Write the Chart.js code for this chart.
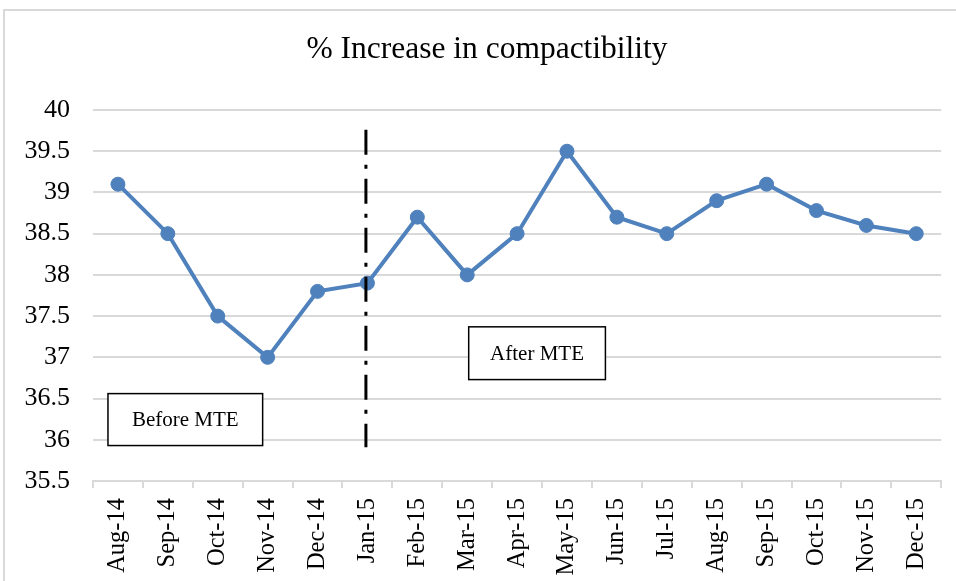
<!DOCTYPE html>
<html lang="en">
<head>
<meta charset="UTF-8" />
<title>% Increase in compactibility</title>
<style>
  body { margin: 0; padding: 0; background: #fff; }
  .wrap { position: relative; width: 956px; height: 581px; }
</style>
</head>
<body>
  <div class="wrap">
    <canvas id="chart"></canvas>
  </div>

  <script src="https://cdn.jsdelivr.net/npm/chart.js"></script>
  <script>
    // data
    const months = ['Aug-14', 'Sep-14', 'Oct-14', 'Nov-14', 'Dec-14', 'Jan-15', 'Feb-15', 'Mar-15', 'Apr-15',
                    'May-15', 'Jun-15', 'Jul-15', 'Aug-15', 'Sep-15', 'Oct-15', 'Nov-15', 'Dec-15'];
    const compactibility = [39.1, 38.5, 37.5, 37.0, 37.8, 37.9, 38.7, 38.0, 38.5,
                            39.5, 38.7, 38.5, 38.9, 39.1, 38.78, 38.6, 38.5];
    const yTicks = { min: 35.5, max: 40, step: 0.5 };
    const chartTitle = '% Increase in compactibility';

    // MTE divider (category index) and labels
    const mteIndex = 5;
    const mteSpan = [39.76, 35.91];
    const notes = [
      { text: 'Before MTE', x: [-0.2, 2.9], y: [36.56, 35.93] },
      { text: 'After MTE',  x: [7.03, 9.77], y: [37.37, 36.73] }
    ];

    const serif = "'Liberation Serif', 'Times New Roman', serif";
    const gridGray = '#d9d9d9';

    // light frame round the chart plus the title (Excel centres it on the whole frame)
    const frame = {
      id: 'frame',
      beforeDraw(chart) {
        const c = chart.ctx;
        c.save();
        c.strokeStyle = gridGray;
        c.lineWidth = 2;
        c.beginPath();
        c.moveTo(4, chart.height + 5);
        c.lineTo(4, 10);
        c.lineTo(chart.width + 5, 10);
        c.stroke();
        c.fillStyle = '#000';
        c.font = '31.5px ' + serif;
        c.textAlign = 'center';
        c.textBaseline = 'middle';
        c.fillText(chartTitle, 487, 50);
        c.restore();
      }
    };

    // dash-dot line and the two text boxes
    const mteNotes = {
      id: 'mteNotes',
      afterDatasetsDraw(chart) {
        const c = chart.ctx;
        const xs = chart.scales.x, ys = chart.scales.y;
        c.save();
        const lx = xs.getPixelForValue(mteIndex) - 1.5;
        c.strokeStyle = '#000';
        c.lineWidth = 3;
        c.setLineDash([25, 10, 4, 10]);
        c.beginPath();
        c.moveTo(lx, ys.getPixelForValue(mteSpan[0]));
        c.lineTo(lx, ys.getPixelForValue(mteSpan[1]));
        c.stroke();
        c.setLineDash([]);

        c.font = '21px ' + serif;
        c.textAlign = 'center';
        c.textBaseline = 'middle';
        notes.forEach(n => {
          const x0 = xs.getPixelForValue(n.x[0]), x1 = xs.getPixelForValue(n.x[1]);
          const y0 = ys.getPixelForValue(n.y[0]), y1 = ys.getPixelForValue(n.y[1]);
          c.fillStyle = '#fff';
          c.fillRect(x0, y0, x1 - x0, y1 - y0);
          c.lineWidth = 1.5;
          c.strokeStyle = '#000';
          c.strokeRect(x0, y0, x1 - x0, y1 - y0);
          c.fillStyle = '#000';
          c.fillText(n.text, (x0 + x1) / 2, (y0 + y1) / 2 + 1);
        });
        c.restore();
      }
    };

    new Chart(document.getElementById('chart'), {
      type: 'line',
      data: {
        labels: months,
        datasets: [{
          label: chartTitle,
          data: compactibility,
          borderColor: '#4F81BD',
          backgroundColor: '#4F81BD',
          borderWidth: 4,
          pointRadius: 7,
          pointBorderWidth: 1,
          pointBackgroundColor: '#4F81BD',
          pointBorderColor: '#4F81BD',
          tension: 0
        }]
      },
      options: {
        responsive: true,
        maintainAspectRatio: false,
        animation: false,
        layout: { padding: { left: 0, right: 12, top: 110, bottom: 0 } },
        plugins: {
          legend: { display: false },
          tooltip: { enabled: false },
          title: { display: false }
        },
        scales: {
          x: {
            offset: true,
            grid: { offset: true, drawOnChartArea: false, drawTicks: true, tickLength: 7, color: gridGray, lineWidth: 2 },
            border: { color: gridGray, width: 2 },
            ticks: {
              autoSkip: false, minRotation: 90, maxRotation: 90, padding: 10,
              color: '#000', font: { family: serif, size: 24.5 }
            },
            afterFit(s) { s.height = 100; }
          },
          y: {
            min: yTicks.min,
            max: yTicks.max,
            grid: { color: gridGray, lineWidth: 2, drawTicks: false },
            border: { display: false },
            ticks: {
              stepSize: yTicks.step, padding: 23,
              color: '#000', font: { family: serif, size: 26 },
              callback: v => String(Math.round(v * 10) / 10)
            },
            afterFit(s) { s.width = 93; }
          }
        }
      },
      plugins: [frame, mteNotes]
    });
  </script>
</body>
</html>
